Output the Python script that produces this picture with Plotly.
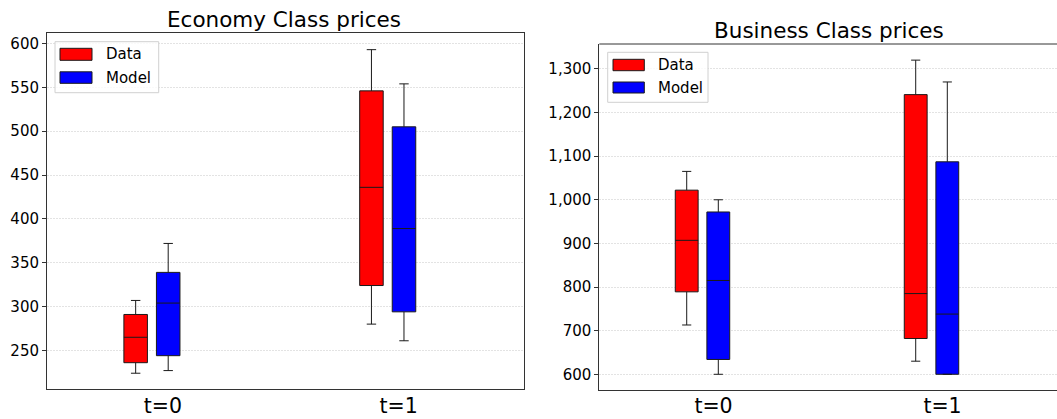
import plotly.graph_objects as go

W, H = 1057, 419

periods = ['t=0', 't=1']
series_names = ['Data', 'Model']
series_colors = ['red', 'blue']

# Economy class box statistics
eco_data_lower = [224, 280]
eco_data_q1 = [236, 324]
eco_data_median = [265, 436]
eco_data_q3 = [291, 546]
eco_data_upper = [307, 593]

eco_model_lower = [227, 261]
eco_model_q1 = [244, 294]
eco_model_median = [304, 389]
eco_model_q3 = [339, 505]
eco_model_upper = [372, 554]

# Business class box statistics
bus_data_lower = [713, 630]
bus_data_q1 = [789, 682]
bus_data_median = [907, 785]
bus_data_q3 = [1022, 1241]
bus_data_upper = [1065, 1320]

bus_model_lower = [600, 600]
bus_model_q1 = [634, 600]
bus_model_median = [815, 738]
bus_model_q3 = [972, 1087]
bus_model_upper = [1000, 1270]

FONT = 'DejaVu Sans'

fig = go.Figure()

panels = [
    ('x', 'y', [
        (eco_data_lower, eco_data_q1, eco_data_median, eco_data_q3, eco_data_upper),
        (eco_model_lower, eco_model_q1, eco_model_median, eco_model_q3, eco_model_upper),
    ]),
    ('x2', 'y2', [
        (bus_data_lower, bus_data_q1, bus_data_median, bus_data_q3, bus_data_upper),
        (bus_model_lower, bus_model_q1, bus_model_median, bus_model_q3, bus_model_upper),
    ]),
]

for xa, ya, stats in panels:
    for name, color, (lo, q1, med, q3, hi) in zip(series_names, series_colors, stats):
        fig.add_trace(go.Box(
            x=periods, lowerfence=lo, q1=q1, median=med, q3=q3, upperfence=hi,
            name=name, offsetgroup=name, fillcolor=color,
            line=dict(color='#1a1a1a', width=1), whiskerwidth=0.4,
            boxpoints=False, showlegend=False, xaxis=xa, yaxis=ya,
        ))


def px(x):
    return x / W


def py(y):
    return 1 - y / H


grid = dict(showgrid=True, gridcolor='#e3e3e3', griddash='2px,1px', gridwidth=1)

fig.update_layout(
    width=W, height=H,
    margin=dict(l=0, r=0, t=0, b=0),
    paper_bgcolor='white', plot_bgcolor='white',
    font=dict(family=FONT, color='black'),
    boxmode='group', boxgap=0.724, boxgroupgap=0.277,
    showlegend=False,
    xaxis=dict(domain=[px(47), px(524)], range=[-0.445, 1.578], type='category',
               categoryorder='array', categoryarray=periods,
               showgrid=False, zeroline=False, showline=True, mirror=True,
               linecolor='#333', linewidth=1, ticks='', tickfont=dict(size=20.5),
               ticklabelshift=11, ticklabelstandoff=-2, anchor='y', automargin=False),
    yaxis=dict(domain=[py(389), py(33)], range=[206, 612], dtick=50, tick0=0,
               zeroline=False, showline=True, mirror=True, linecolor='#333', linewidth=1,
               ticks='outside', ticklen=4, tickcolor='#333', tickfont=dict(size=15),
               anchor='x', automargin=False, **grid),
    xaxis2=dict(domain=[px(599.3), 1.0], range=[-0.4507, 1.548], type='category',
                categoryorder='array', categoryarray=periods,
                showgrid=False, zeroline=False, showline=True, mirror=False,
                linecolor='#333', linewidth=1, ticks='', tickfont=dict(size=20.5),
                ticklabelshift=11, ticklabelstandoff=-3, anchor='y2', automargin=False),
    yaxis2=dict(domain=[py(390), py(44)], range=[564, 1357], dtick=100, tick0=0,
                tickformat=',', zeroline=False, showline=True, mirror=False,
                linecolor='#333', linewidth=1, ticks='outside', ticklen=4, tickcolor='#333',
                tickfont=dict(size=15), anchor='x2', automargin=False, **grid),
)

shapes = [
    dict(type='line', xref='x2 domain', yref='y2 domain', x0=0, x1=1, y0=1, y1=1,
         line=dict(color='#333', width=1)),
]
annotations = [
    dict(text='Economy Class prices', xref='paper', yref='paper', x=px(284), y=py(19.5),
         xanchor='center', yanchor='middle', showarrow=False, font=dict(size=21.5)),
    dict(text='Business Class prices', xref='paper', yref='paper', x=px(828.5), y=py(30.5),
         xanchor='center', yanchor='middle', showarrow=False, font=dict(size=21.5)),
]

# Legend boxes (frame, swatches, labels) for each panel, in pixel positions
legends = [
    dict(frame=(55, 41.7, 158.7, 92.7), sw_x=(60, 92), sw_y=[(48.3, 60.3), (71.8, 83.3)],
         txt_x=104, txt_y=[54.5, 77.5]),
    dict(frame=(607.7, 52.3, 708, 102.3), sw_x=(613, 644.3), sw_y=[(59.3, 70.7), (82, 93)],
         txt_x=655.5, txt_y=[65, 88]),
]
for lg in legends:
    x0, y0, x1, y1 = lg['frame']
    shapes.append(dict(type='rect', xref='paper', yref='paper', x0=px(x0), x1=px(x1),
                       y0=py(y1), y1=py(y0), fillcolor='rgba(255,255,255,0.8)',
                       line=dict(color='#d0d0d0', width=1)))
    for i, (name, color) in enumerate(zip(series_names, series_colors)):
        sy0, sy1 = lg['sw_y'][i]
        shapes.append(dict(type='rect', xref='paper', yref='paper',
                           x0=px(lg['sw_x'][0]), x1=px(lg['sw_x'][1]),
                           y0=py(sy1), y1=py(sy0), fillcolor=color,
                           line=dict(color='#1a1a1a', width=1)))
        annotations.append(dict(text=name, xref='paper', yref='paper', x=px(lg['txt_x']),
                                y=py(lg['txt_y'][i]), xanchor='left', yanchor='middle',
                                showarrow=False, font=dict(size=15)))

fig.update_layout(shapes=shapes, annotations=annotations)

fig.write_html('out.html')
